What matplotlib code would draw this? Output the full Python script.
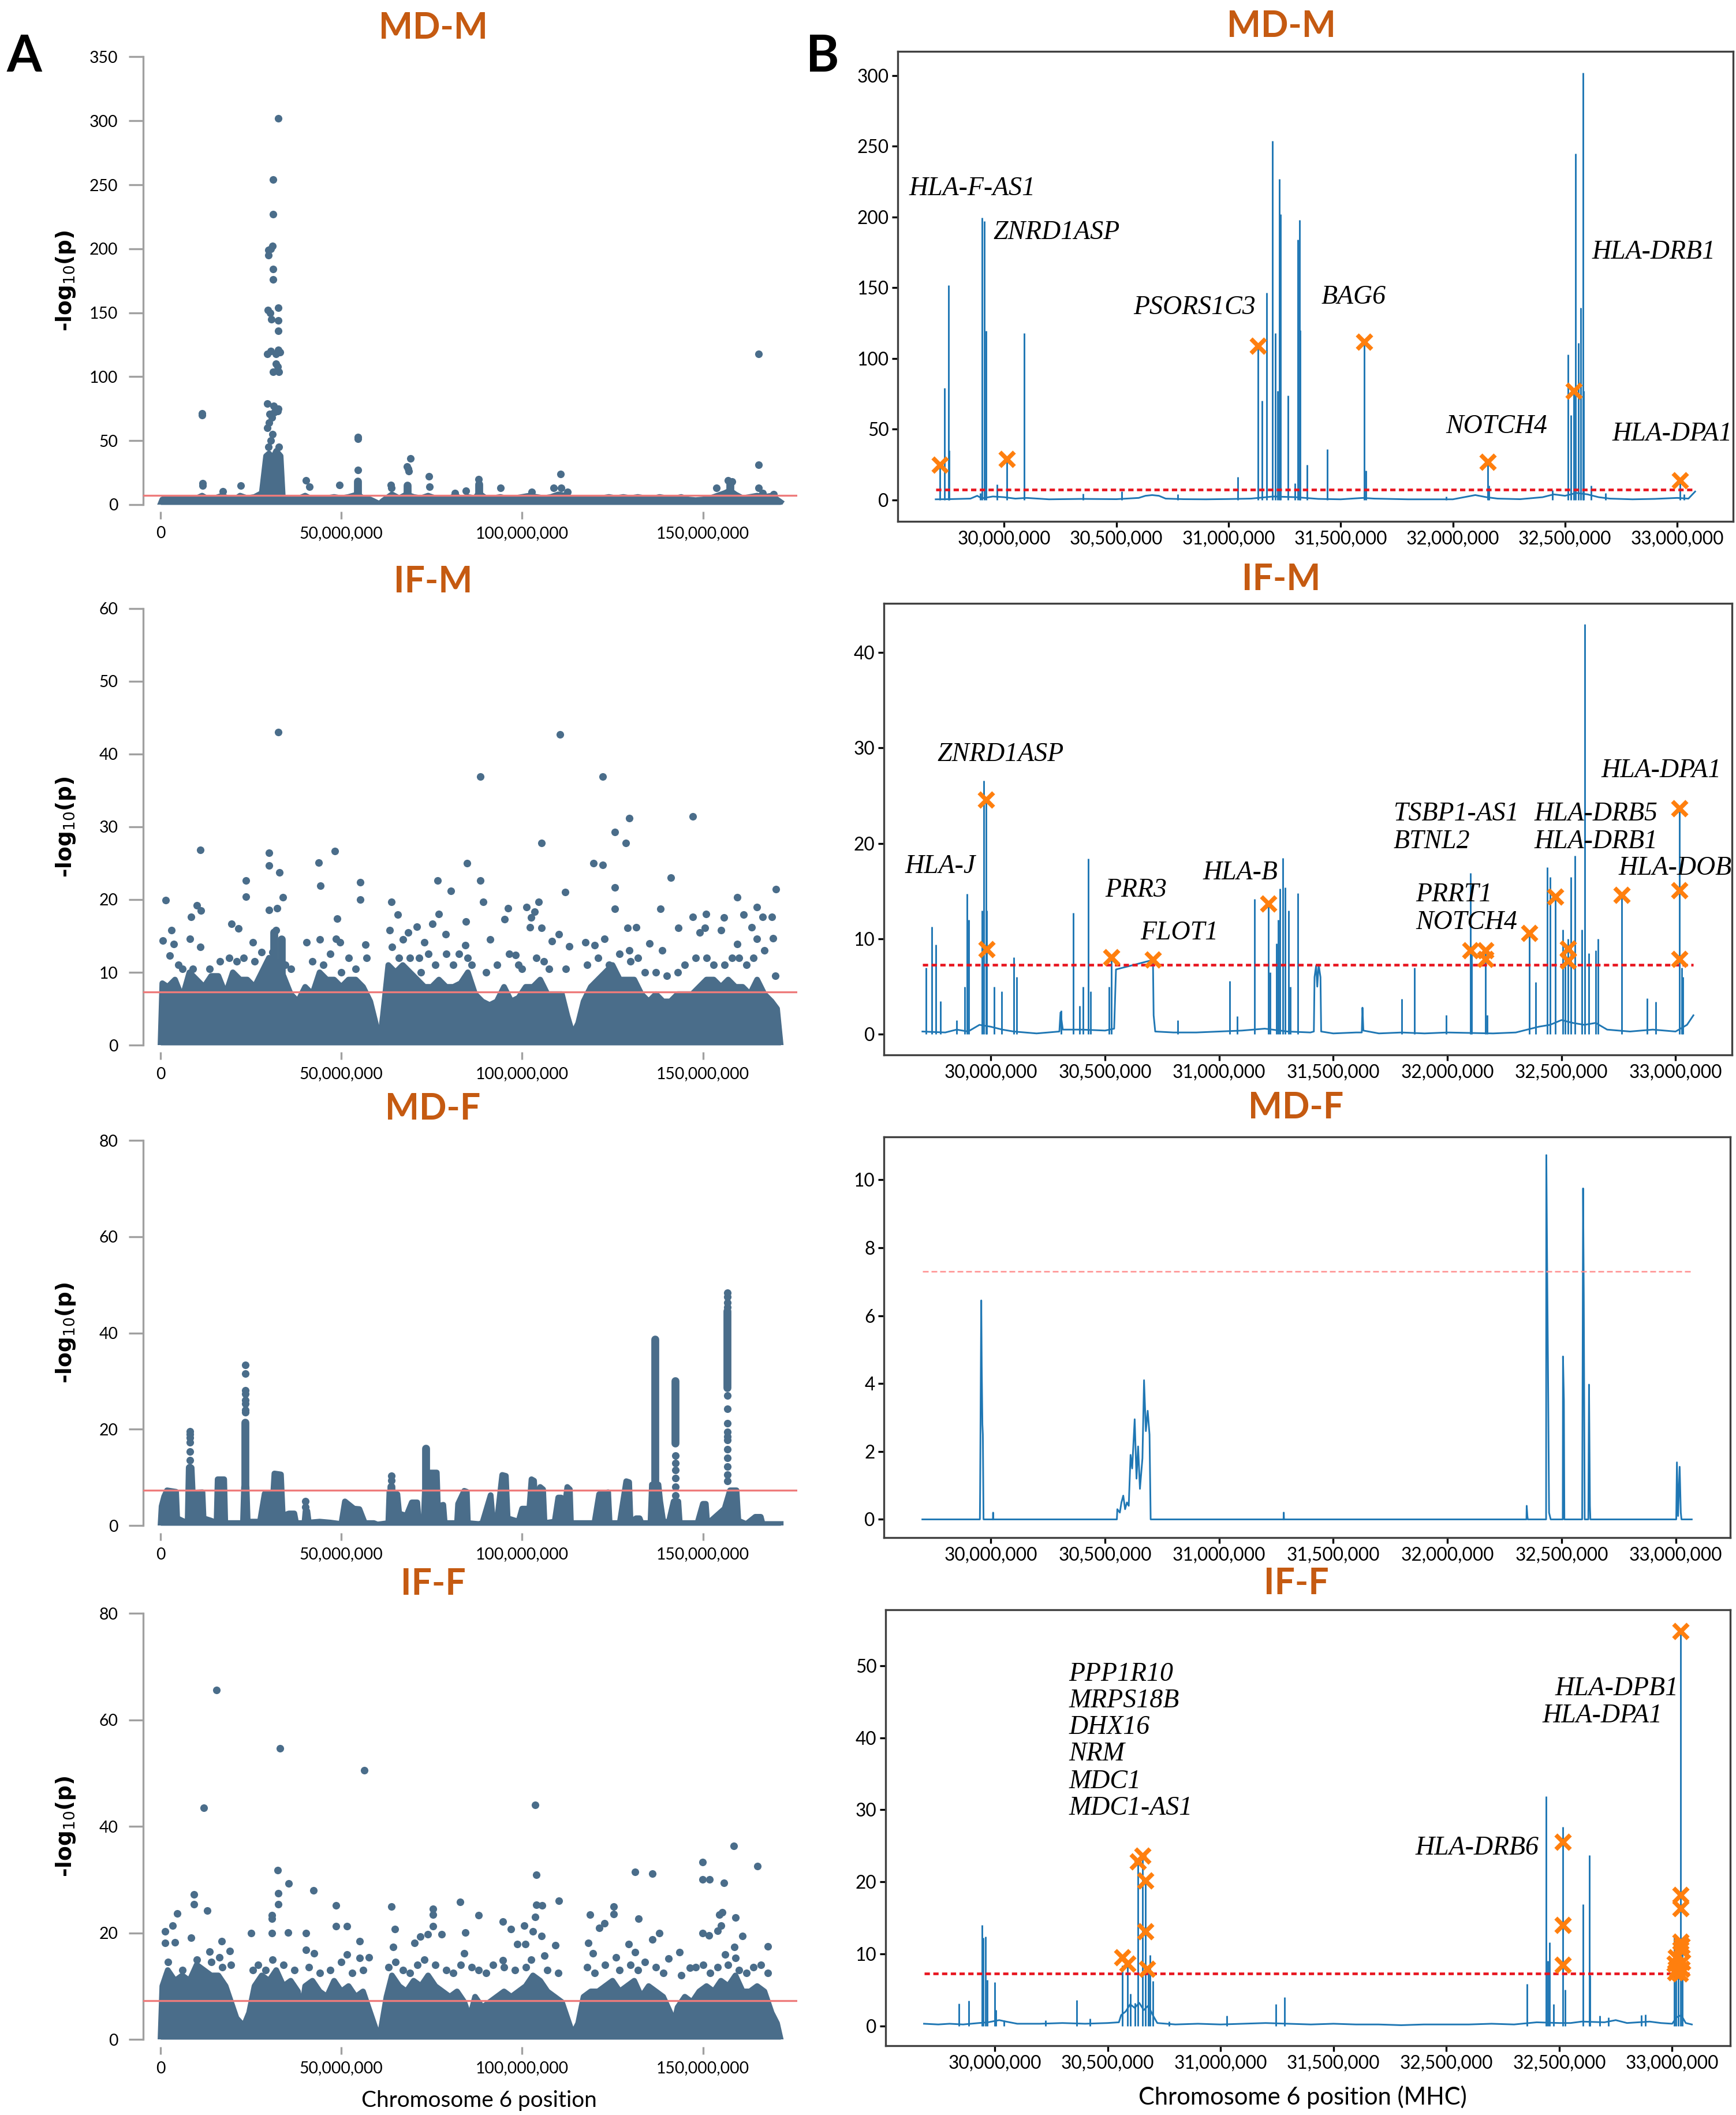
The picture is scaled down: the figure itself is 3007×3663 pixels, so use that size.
import numpy as np
import matplotlib
matplotlib.use('Agg')
import matplotlib.pyplot as plt

W, H = 3007, 3663
SIG = 7.3
DOT = '#4a6d8a'
LINE = '#1f77b4'
MARK = '#ff7f0e'
TITLE = '#c55a11'

SANS = 'Lato'
SERIF = 'Liberation Serif'
plt.rcParams['font.family'] = [SANS, 'DejaVu Sans']

# ---------------- A: genome wide (position in Mb, -log10 p) ----------------
genome_ticks = [0, 50, 100, 150]
genome_labels = ['0', '50,000,000', '100,000,000', '150,000,000']

mdm_band = [(0, 0.5), (0.5, 4), (2, 5), (4, 4.5), (6, 5), (8, 4), (10, 5), (11.5, 7), (13, 4.5),
            (15, 5), (17, 7), (19, 4.5), (21, 5), (22, 7), (24, 5), (26, 6), (28, 9), (29.2, 38),
            (30, 40), (31, 36), (32, 42), (33.2, 38), (33.8, 6), (36, 4), (38, 4.5), (40, 7),
            (42, 4), (44, 4.5), (46, 5), (48, 6), (50, 5), (52, 6), (54.5, 8), (56, 5), (58, 4),
            (59.5, 2), (60.5, 0.5), (61.5, 3), (63, 6), (64, 8), (66, 5), (68, 8), (70, 6),
            (72, 5), (74, 7), (76, 5), (78, 4.5), (80, 5), (81.5, 7), (83, 5), (85, 6), (87, 5),
            (88, 9), (90, 5), (92, 5), (94, 6), (96, 4.5), (98, 5), (100, 6), (102, 7), (104, 6),
            (106, 5), (108, 6), (110, 8), (112, 7), (114, 4), (116, 4.5), (118, 5), (120, 4.5),
            (122, 5), (124, 6), (126, 5), (128, 6), (130, 5), (132, 6), (134, 5), (136, 4.5),
            (138, 6), (140, 5), (142, 4.5), (144, 6), (146, 4), (148, 3.5), (150, 4), (152, 5),
            (154, 7), (156, 9), (157.5, 11), (159, 8), (161, 5), (163, 6), (165, 7), (167, 6),
            (169, 7), (171.5, 2)]
mdm_cols = [(54.6, 5, 18), (68.4, 5, 15), (88.1, 5, 16), (157.5, 5, 17)]
mdm_dots = [(11.5, 71.5), (11.5, 70), (11.6, 16.5), (11.6, 15), (17.2, 10.5), (22.2, 15),
            (40.2, 19), (41.2, 14), (49.5, 15.5), (54.6, 53), (54.6, 51.5), (54.6, 27),
            (63.7, 15.5), (63.8, 13), (68.2, 30), (68.5, 28), (68.7, 26), (69.1, 36), (74.3, 22),
            (74.4, 14), (81.4, 9), (84.4, 11), (88, 20), (94, 13), (102.7, 10), (108.8, 13),
            (110.7, 24), (110.8, 13), (112.5, 10), (153.8, 13), (157, 19), (158, 18),
            (165.4, 118), (165.4, 31), (165.4, 13), (166.5, 9), (169.5, 8), (29.8, 45),
            (30.5, 50), (31.0, 55), (32.8, 45), (29.6, 60), (30.0, 64), (30.2, 71), (31.5, 72),
            (32.6, 75), (29.5, 79), (31.3, 77), (32.4, 73), (30.8, 68), (31.2, 104), (32.7, 104),
            (32.4, 108), (32.0, 110), (29.5, 118), (30.5, 120), (32.0, 118), (32.5, 121),
            (33.0, 119), (32.5, 136), (30.7, 145), (32.6, 144), (30.3, 150), (29.7, 152),
            (32.5, 154), (31.2, 176), (31.2, 184), (29.8, 195), (29.9, 199), (30.5, 200),
            (31.0, 202), (31.2, 227), (31.2, 254), (32.5, 302)]

ifm_band = [(0, 0), (0.5, 8.5), (2, 8), (4, 9), (6, 6.5), (8, 10), (10, 9), (12, 8), (14, 9.5),
            (16, 9.5), (18, 7), (20, 10), (22, 9), (24, 9), (26, 8), (28, 10), (30, 12),
            (32, 11.5), (34, 9.5), (36, 7), (38, 6), (40, 8), (42, 7), (44, 10), (46, 9), (48, 9),
            (50, 8), (52, 9), (54, 9), (56, 8), (58, 6), (59.5, 3), (60.5, 0), (61.5, 4),
            (63, 11), (65, 10), (67, 11), (69, 10), (71, 9), (73, 8), (75, 8), (77, 9), (79, 8),
            (81, 8), (83, 8.5), (85, 10), (87, 7), (89, 6), (91, 5.5), (93, 6), (95, 8), (97, 6),
            (99, 6.5), (101, 8), (103, 8), (105, 9), (107, 7), (109, 7), (111, 7), (112.5, 4),
            (114, 1.5), (115.5, 3), (117, 6), (119, 8), (121, 9), (123, 10), (125, 11), (127, 9),
            (129, 9), (131, 9), (133, 7), (135, 6), (137, 7), (139, 6), (141, 6), (143, 7),
            (145, 7), (147, 7), (149, 8), (151, 9), (153, 9), (155, 8), (157, 9), (159, 8),
            (161, 8), (163, 7), (165, 9), (167, 7), (169, 6), (170.5, 5), (171.5, 0)]
ifm_cols = [(31.5, 9, 15.5), (33.5, 9, 14.5)]
ifm_dots = [(32.5, 43.0), (110.5, 42.7), (88.4, 36.9), (122.3, 36.9), (129.7, 31.2),
            (147.2, 31.4), (125.7, 29.3), (105.3, 27.8), (128.6, 27.8), (11.0, 26.8),
            (30.0, 26.4), (48.2, 26.7), (43.8, 25.1), (30.0, 24.7), (84.7, 25.0), (119.7, 25.0),
            (122.3, 24.8), (32.9, 23.7), (141.2, 23.0), (23.7, 22.6), (55.2, 22.4), (76.7, 22.6),
            (88.4, 22.6), (44.2, 21.9), (125.7, 21.7), (170.2, 21.4), (111.9, 21.0), (80.3, 21.2),
            (23.7, 20.4), (33.8, 20.3), (159.5, 20.3), (1.5, 19.9), (55.2, 20.0), (63.8, 19.7),
            (89.3, 19.7), (104.5, 19.7), (101.2, 19.0), (103.4, 18.3), (10.1, 19.2), (11.1, 18.5),
            (30.0, 18.6), (32.2, 18.8), (96.1, 18.8), (125.7, 18.7), (138.3, 18.7), (165.0, 19.0),
            (8.5, 17.6), (48.8, 17.4), (65.6, 17.9), (77.0, 18.0), (102.5, 17.5), (147.2, 17.6),
            (150.9, 18.0), (155.8, 17.5), (161.3, 17.9), (166.5, 17.6), (169.0, 17.6),
            (95.2, 17.3), (84.4, 17.0), (70.9, 16.3), (75.2, 16.7), (19.6, 16.7), (131.6, 16.2),
            (129.1, 16.1), (143.2, 16.1), (102.2, 16.2), (105.3, 16.1), (3.1, 15.8), (21.5, 16.0),
            (63.4, 15.8), (68.5, 15.5), (150.6, 16.1), (149.1, 15.5), (155.0, 15.8), (163.5, 16.2),
            (110.1, 15.2), (78.8, 15.2), (31.9, 15.8), (108.2, 14.3), (117.5, 14.1), (122.8, 14.6),
            (91.1, 14.5), (73.0, 14.1), (8.2, 14.6), (0.7, 14.4), (3.6, 13.9), (40.4, 14.1),
            (44.1, 14.5), (48.5, 14.6), (49.7, 14.1), (25.5, 14.1), (135.2, 14.0), (138.8, 13.0),
            (165.0, 14.6), (169.4, 14.7), (159.5, 13.9), (113.1, 13.6), (120.0, 13.7),
            (56.7, 13.8), (11.0, 13.5), (84.3, 13.7), (98.2, 12.4), (129.7, 13.0), (2.5, 12.3),
            (5, 11), (6, 10.5), (9, 10.5), (13.5, 10.5), (16.5, 11.5), (19, 12), (21, 11.5),
            (23, 12), (26, 11.5), (28, 12.8), (31, 12.8), (34.5, 11), (36, 10.5), (42, 11.5),
            (45, 11), (47, 12.5), (50, 10), (52, 12), (54, 10.5), (57, 12), (64, 13.5), (66, 12),
            (67, 14.5), (69, 12), (71.5, 12), (72, 10), (74, 12.5), (76, 11), (79, 12.5), (81, 11),
            (82.5, 12.5), (85, 12), (86, 11), (90, 10), (93, 11), (96.5, 12.5), (99, 11),
            (100, 10.5), (104, 12), (106, 11.5), (107.5, 10.5), (112, 10.5), (118, 11), (121, 12),
            (124, 11), (127, 12.5), (130, 11.5), (132, 12), (134, 10), (137, 10), (140, 9.5),
            (143, 10), (145, 11), (148, 12), (151, 12), (153, 11), (156, 11), (158, 12), (160, 12),
            (162, 11), (164, 12), (167, 13), (170, 9.5)]

mdf_band = [(0, 0), (0.3, 4), (1, 6), (1.8, 7.3), (4.3, 7), (4.6, 1.5), (6, 1), (7.5, 0.5),
            (7.8, 12), (8.6, 12), (8.9, 6.8), (11.6, 6.9), (11.9, 1.5), (14, 1), (15.5, 0.5),
            (15.8, 9.6), (17.6, 9.6), (17.9, 0.5), (22.8, 0.5), (23.1, 8), (23.8, 8), (24.1, 0.8),
            (27.5, 0.8), (28.8, 6.6), (30.3, 6.6), (30.8, 2), (31.5, 10.8), (33.3, 10.6),
            (33.8, 2), (35.5, 2.5), (37, 2.5), (37.5, 0.5), (39.8, 0.5), (40.1, 3.0), (40.6, 3.0),
            (41, 0.6), (44, 0.8), (47, 0.6), (50, 0.3), (51, 5), (53.5, 3.5), (55, 3.4),
            (56.5, 0.5), (59, 0.5), (60, 0.2), (63, 0.5), (63.3, 7), (65.5, 6.5), (66, 2.5),
            (68, 2), (69.5, 4.8), (71, 4.8), (71.4, 1), (72.8, 1), (73.1, 7), (74, 11),
            (76.4, 11), (76.7, 4), (78.2, 4.3), (78.6, 0.5), (82, 0.5), (82.3, 4.5), (84, 7.2),
            (84.7, 7), (85, 0.5), (88, 0.3), (89, 0.5), (91.3, 6.3), (91.9, 1), (93, 0.5),
            (94.5, 10.5), (95.5, 10.3), (96, 1.5), (99, 0.8), (100, 3.5), (102, 3.5), (102.6, 9.6),
            (103.3, 9.3), (103.8, 2), (105, 8), (105.8, 7.5), (106.2, 0.5), (109, 0.8),
            (110, 5.8), (110.8, 5.8), (111.2, 0.5), (112.5, 8), (113.2, 7.5), (113.5, 0.5),
            (120, 0.5), (121.3, 6.5), (123.8, 6.9), (124.2, 0.5), (127, 0.5), (128.8, 9.2),
            (129.6, 9), (130, 0.5), (131.5, 1.5), (132.5, 1.5), (133, 0.5), (135.5, 0.5),
            (135.9, 8.5), (137.7, 8.5), (138.2, 5), (139, 1), (140.5, 0.5), (141.9, 5),
            (143.2, 5), (143.6, 0.5), (148.5, 0.5), (150, 4.5), (150.8, 4.5), (151.2, 0.3),
            (153, 1.5), (156, 3.5), (157.5, 7.3), (159.3, 7.3), (159.8, 1), (162, 0.3),
            (164.5, 1.8), (166, 1.8), (166.5, 0.3), (171.5, 0.3)]
mdf_cols = [(8.2, 7, 12), (23.4, 0.5, 21.4), (63.8, 7, 8), (73.5, 7, 15.9), (136.9, 7, 38.6),
            (142.4, 17, 30), (156.8, 28.5, 44.5)]
mdf_dots = [(8.2, 19.5), (8.2, 18.9), (8.2, 18.2), (8.2, 17.3), (8.2, 15.3), (8.2, 13.6),
            (23.4, 33.4), (23.4, 31.6), (23.4, 28.1), (23.4, 27.3), (23.4, 26.0), (23.4, 25.3),
            (23.4, 24.0), (23.4, 23.5), (40.1, 5.0), (40.1, 3.8), (63.8, 10.3), (63.8, 9.4),
            (136.9, 5.5), (136.9, 4.0), (142.4, 14.5), (142.4, 13.0), (142.4, 11.5),
            (142.4, 9.8), (142.4, 8.0), (142.4, 6.2), (142.4, 4.5), (142.4, 3.0), (156.8, 48.3),
            (156.8, 47.5), (156.8, 46.3), (156.8, 45.3), (156.8, 27.0), (156.8, 24.2),
            (156.8, 21.2), (156.8, 19.4), (156.8, 18.5), (156.8, 17.8), (156.8, 15.8),
            (156.8, 14.0), (156.8, 12.2), (156.8, 10.5), (156.8, 9.2)]

iff_band = [(0, 0), (0.5, 10), (2, 13), (4, 11), (6, 12), (8, 11), (10, 14), (12, 13), (14, 12),
            (16, 12), (18, 10), (19.5, 7), (21, 4), (23, 2.5), (24.5, 5), (26, 10), (28, 12),
            (30, 11), (32, 13), (34, 10), (36, 11), (38, 9), (39, 5), (40, 10), (42, 11), (44, 9),
            (46, 8), (48, 11), (50, 9), (52, 10), (54, 8), (56, 9), (58, 5), (59.5, 2),
            (60.3, 0), (61, 2), (62.5, 8), (64, 12), (66, 10), (68, 9), (70, 11), (72, 10),
            (74, 12), (76, 10), (78, 9), (80, 8), (82, 9), (84, 7), (85.5, 4), (87, 8), (89, 6),
            (91, 7), (93, 8), (95, 9), (97, 8), (99, 9), (101, 10), (103, 12), (105, 11), (107, 9),
            (109, 8), (111, 7), (112.5, 4), (114, 1), (115.5, 3), (117, 8), (119, 9), (121, 9),
            (123, 10), (125, 11), (127, 9), (129, 10), (131, 11), (133, 8), (135, 10), (137, 9),
            (139, 8), (141, 5), (142, 3), (143, 6), (145, 8), (147, 7), (149, 9), (151, 10),
            (153, 9), (155, 11), (157, 10), (159, 12), (161, 9), (163, 9), (165, 10), (167, 9),
            (169, 5), (170.5, 3), (171.5, 0)]
iff_cols = []
iff_dots = [(15.5, 65.6), (33.0, 54.6), (56.4, 50.5), (103.6, 44.0), (12.0, 43.5), (158.6, 36.3),
            (149.9, 33.3), (165.1, 32.5), (32.4, 31.8), (104.0, 30.9), (131.2, 31.4), (136.1, 31.1),
            (149.9, 30.0), (151.9, 30.0), (155.9, 29.4), (35.4, 29.3), (42.3, 28.0), (9.3, 27.2),
            (32.5, 27.4), (110.2, 26.0), (82.8, 25.8), (9.3, 25.4), (48.5, 25.1), (63.9, 24.9),
            (104.0, 25.3), (105.5, 25.1), (125.4, 24.9), (75.4, 24.5), (12.9, 24.2), (32.5, 25.4),
            (4.7, 23.6), (155.3, 23.9), (30.8, 23.3), (118.8, 23.4), (75.4, 23.4), (87.9, 23.3),
            (125.4, 23.5), (154.6, 23.4), (30.8, 22.7), (132.2, 22.7), (103.6, 23.0), (159.0, 22.9),
            (94.7, 22.1), (122.8, 21.8), (3.4, 21.4), (48.5, 21.3), (51.5, 21.3), (75.4, 21.3),
            (121.3, 20.9), (155.0, 21.4), (100.6, 21.4), (96.9, 20.7), (64.8, 20.7), (1.3, 20.3),
            (25.1, 19.9), (30.8, 19.9), (35.2, 20.1), (40.2, 20.0), (84.3, 20.1), (138.0, 19.9),
            (149.9, 19.9), (151.7, 19.5), (154.0, 20.4), (160.9, 19.4), (73.9, 19.7), (77.8, 19.7),
            (103.0, 20.3), (105.3, 19.4), (8.4, 19.1), (71.9, 19.3), (136.1, 18.7), (55.0, 18.4),
            (1.2, 18.1), (4.0, 18.2), (16.9, 18.4), (118.3, 18.1), (129.4, 17.9), (98.7, 17.9),
            (100.9, 17.9), (109.2, 17.7), (167.9, 17.4), (158.7, 17.3), (70.3, 18.1), (19.2, 16.6),
            (13.5, 16.5), (40.2, 16.8), (143.5, 16.4), (131.2, 16.4), (119.5, 16.1), (64.3, 17.3),
            (57.7, 15.4), (55.0, 15.3), (51.5, 15.9), (84.0, 16.1), (106.2, 15.7), (126.0, 15.4),
            (140.5, 15.2), (156.1, 15.9), (159.0, 15.3), (16.3, 15.4), (94.7, 14.9), (42.5, 16.1),
            (146.4, 13.4), (2, 14.5), (6, 13), (10, 15), (14, 14.5), (17, 13.5), (19.5, 14),
            (25.5, 13), (27, 14), (29, 13), (31, 15), (34, 14), (37, 13), (41, 13.5), (44, 12.5),
            (47, 13), (50, 14.5), (53, 12.5), (56, 13), (63, 13.5), (65, 14.5), (67, 13),
            (69, 12.5), (71, 14), (73, 15), (76, 14), (79, 13), (81, 12.5), (83, 14), (86, 13.5),
            (88, 13), (90, 12.5), (92, 14), (95, 13.5), (98, 13), (101, 13.5), (102.5, 15),
            (107, 13), (110, 12.5), (118, 13.5), (120, 12.5), (123, 14), (127, 13), (130, 14),
            (132, 13), (134, 14.5), (137, 13.5), (139, 12.5), (144, 12), (148, 13.5), (150, 14),
            (152, 12.5), (154, 13.5), (157, 14), (160, 13), (162, 12.5), (164, 13.5), (166, 14),
            (168, 12.5)]

# ---------------- B: MHC region (position in Mb, -log10 p) ----------------
mhc_ticks = [30.0, 30.5, 31.0, 31.5, 32.0, 32.5, 33.0]
mhc_labels = ['30,000,000', '30,500,000', '31,000,000', '31,500,000', '32,000,000',
              '32,500,000', '33,000,000']
mhc_labels_iff = ['30,000,000', '30,500,000', '31,000,000', '31,500,000', '32,500,000',
                  '32,500,000', '33,000,000']

mdm_base = [(29.695, 0.5), (29.75, 0.6), (29.80, 0.8), (29.85, 1), (29.88, 3), (29.90, 1.2),
            (29.95, 2.5), (30.0, 2), (30.05, 1), (30.1, 1.5), (30.2, 0.5), (30.35, 0.8),
            (30.5, 0.6), (30.6, 1.5), (30.63, 3), (30.66, 3.5), (30.69, 3), (30.72, 1),
            (30.8, 0.6), (30.9, 0.5), (31.0, 0.7), (31.1, 1), (31.2, 2.5), (31.3, 2), (31.4, 0.8),
            (31.5, 0.5), (31.6, 1.5), (31.65, 1), (31.8, 0.5), (32.0, 0.5), (32.1, 3.5),
            (32.15, 2), (32.2, 1), (32.3, 0.6), (32.4, 2), (32.45, 4), (32.5, 3), (32.55, 5),
            (32.6, 4), (32.65, 2), (32.7, 1), (32.8, 0.5), (32.9, 0.8), (33.0, 1.5), (33.05, 1),
            (33.08, 6)]
mdm_spikes = [(29.714, 25), (29.735, 79), (29.751, 152), (29.755, 35), (29.895, 5),
              (29.902, 199.5), (29.913, 197), (29.920, 119.5), (29.968, 11), (30.011, 29),
              (30.090, 118), (30.352, 4.5), (30.525, 6), (30.773, 4), (31.042, 16.4),
              (31.132, 109), (31.150, 70), (31.171, 146.5), (31.195, 254), (31.209, 118),
              (31.219, 77), (31.227, 227), (31.232, 202), (31.264, 74), (31.295, 12),
              (31.309, 184), (31.317, 198), (31.320, 120), (31.349, 25), (31.439, 36),
              (31.606, 112), (31.613, 21), (31.97, 2.5), (32.155, 27), (32.160, 10), (32.445, 7),
              (32.513, 103), (32.525, 60), (32.539, 77), (32.547, 245), (32.560, 111),
              (32.571, 136), (32.579, 302), (32.583, 77), (32.615, 10), (32.68, 5), (33.013, 14),
              (33.030, 4)]
mdm_marks = [(29.714, 25), (30.011, 29), (31.132, 109), (31.606, 112), (32.155, 27),
             (32.539, 77), (33.013, 14)]
mdm_genes = ['HLA-F-AS1', 'ZNRD1ASP', 'PSORS1C3', 'BAG6', 'HLA-DRB1', 'NOTCH4', 'HLA-DPA1']
mdm_gene_xy = [(29.576, 220), (29.952, 189), (30.575, 136), (31.413, 143.5), (32.619, 175),
               (31.969, 52), (32.709, 46.5)]

ifm_base = [(29.700, 0.3), (29.8, 0.2), (29.85, 0.5), (29.9, 0.3), (29.95, 1.0), (30.0, 0.8),
            (30.05, 0.5), (30.1, 0.3), (30.2, 0.1), (30.3, 0.3), (30.305, 2.3), (30.315, 0.5),
            (30.4, 0.5), (30.5, 0.4), (30.54, 0.6), (30.548, 6.8), (30.710, 7.8), (30.713, 2),
            (30.72, 0.3), (30.8, 0.2), (30.9, 0.2), (31.0, 0.3), (31.1, 0.4), (31.2, 0.6),
            (31.3, 0.3), (31.4, 0.2), (31.415, 0.3), (31.418, 6), (31.425, 7.2), (31.43, 5),
            (31.436, 7.3), (31.444, 6), (31.447, 0.3), (31.5, 0.1), (31.6, 0.2), (31.625, 0.2),
            (31.628, 2.8), (31.632, 0.4), (31.7, 0.1), (31.8, 0.2), (31.9, 0.1), (32.0, 0.2),
            (32.2, 0.1), (32.3, 0.2), (32.35, 0.5), (32.4, 0.8), (32.45, 1), (32.5, 1.5),
            (32.55, 1.2), (32.6, 1), (32.65, 1.2), (32.7, 0.5), (32.8, 0.3), (32.9, 0.5),
            (33.0, 0.3), (33.05, 1), (33.078, 2)]
ifm_spikes = [(29.716, 7), (29.740, 11.3), (29.758, 9.4), (29.78, 3.5), (29.85, 1.5),
              (29.884, 5), (29.896, 14.7), (29.904, 12), (29.961, 13), (29.969, 26.6),
              (29.979, 24.6), (29.982, 13), (30.013, 5), (30.047, 4.5), (30.099, 8.1),
              (30.112, 6), (30.308, 2.5), (30.362, 12.7), (30.388, 3), (30.404, 5),
              (30.427, 18.4), (30.437, 4.5), (30.518, 5), (30.528, 8.1), (30.819, 1.5),
              (31.046, 5.6), (31.080, 1.9), (31.155, 14.2), (31.215, 13.7), (31.223, 6.5),
              (31.250, 9.5), (31.258, 12), (31.266, 15.3), (31.280, 18.5), (31.288, 15.4),
              (31.303, 13), (31.313, 5), (31.345, 14.8), (31.801, 3.7),
              (31.855, 7.0), (31.995, 2), (32.102, 16.9), (32.105, 8.8), (32.168, 8.8),
              (32.174, 2), (32.360, 10.6), (32.386, 5.5), (32.438, 17.5), (32.450, 16.5),
              (32.472, 14.4), (32.505, 11), (32.515, 9), (32.529, 10), (32.540, 16.5),
              (32.560, 18.7), (32.588, 11), (32.602, 43), (32.620, 8.5), (32.650, 8.8),
              (32.660, 10), (32.763, 14.8), (32.876, 3.8), (32.912, 3.4), (33.016, 23.7),
              (33.026, 7), (33.031, 6)]
ifm_marks = [(29.979, 24.6), (29.982, 8.9), (30.528, 8.1), (30.710, 7.8), (31.215, 13.7),
             (32.102, 8.8), (32.168, 8.8), (32.168, 7.9), (32.360, 10.6), (32.472, 14.4),
             (32.529, 9.0), (32.529, 7.7), (32.763, 14.6), (33.016, 23.7), (33.016, 15.1),
             (33.016, 7.9)]
ifm_genes = ['ZNRD1ASP', 'HLA-J', 'PRR3', 'FLOT1', 'HLA-B', 'TSBP1-AS1', 'BTNL2', 'PRRT1',
             'NOTCH4', 'HLA-DRB5', 'HLA-DRB1', 'HLA-DPA1', 'HLA-DOB']
ifm_gene_xy = [(29.766, 29.3), (29.623, 17.6), (30.500, 15.1), (30.656, 10.6), (30.929, 16.9),
               (31.764, 23.1), (31.764, 20.2), (31.861, 14.6), (31.861, 11.7), (32.381, 23.1),
               (32.381, 20.2), (32.675, 27.6), (32.750, 17.4)]

mdf_line = [(29.700, 0), (29.952, 0), (29.953, 0.8), (29.958, 6.45), (29.960, 4.5),
            (29.963, 2.8), (29.965, 2.5), (29.968, 0), (30.009, 0), (30.010, 0.2), (30.011, 0),
            (30.552, 0), (30.554, 0.3), (30.565, 0.2), (30.572, 0.5), (30.580, 0.7),
            (30.588, 0.3), (30.596, 0.5), (30.604, 0.4), (30.612, 1.9), (30.619, 1.5),
            (30.630, 2.95), (30.638, 1.2), (30.645, 2.15), (30.653, 0.9), (30.664, 1.8),
            (30.671, 4.1), (30.679, 2.6), (30.687, 3.2), (30.695, 2.5), (30.700, 0),
            (31.282, 0), (31.283, 0.2), (31.284, 0), (32.346, 0), (32.347, 0.4), (32.350, 0.1),
            (32.352, 0), (32.432, 0), (32.433, 10.73), (32.436, 8), (32.440, 4.75),
            (32.445, 0.2), (32.452, 0), (32.505, 0), (32.506, 4.8), (32.510, 3.5), (32.512, 0),
            (32.590, 0), (32.592, 4.5), (32.594, 9.75), (32.597, 6.6), (32.601, 0),
            (32.617, 0), (32.620, 3.97), (32.624, 0.4), (32.626, 0), (33.002, 0),
            (33.005, 1.68), (33.010, 0.1), (33.017, 1.55), (33.022, 0.2), (33.025, 0),
            (33.070, 0)]

iff_base = [(29.687, 0.3), (29.75, 0.2), (29.80, 0.3), (29.86, 0.2), (29.93, 0.4), (29.97, 0.5),
            (30.02, 0.8), (30.05, 0.6), (30.1, 0.3), (30.2, 0.3), (30.3, 0.4), (30.4, 0.3),
            (30.5, 0.4), (30.55, 0.5), (30.56, 1.5), (30.58, 2), (30.60, 3), (30.62, 2.5),
            (30.64, 3.2), (30.66, 2.2), (30.68, 2.8), (30.70, 1.5), (30.72, 0.4), (30.8, 0.2),
            (30.9, 0.3), (31.0, 0.2), (31.1, 0.3), (31.2, 0.4), (31.3, 0.3), (31.4, 0.2),
            (31.5, 0.3), (31.6, 0.2), (31.7, 0.2), (31.8, 0.1), (31.9, 0.2), (32.0, 0.2),
            (32.1, 0.2), (32.2, 0.3), (32.3, 0.2), (32.4, 0.5), (32.5, 0.4), (32.55, 0.4),
            (32.6, 0.6), (32.7, 0.5), (32.75, 0.8), (32.8, 0.4), (32.9, 0.6), (32.95, 0.4),
            (33.0, 0.3), (33.02, 1.2), (33.04, 1.5), (33.06, 0.4), (33.087, 0.2)]
iff_spikes = [(29.842, 3.1), (29.884, 3.5), (29.945, 14), (29.950, 12.2), (29.958, 12.4),
              (29.968, 6.4), (30.0, 6.1), (30.005, 2.2), (30.042, 0.8), (30.226, 0.8),
              (30.363, 3.6), (30.421, 1.0), (30.566, 8.4), (30.587, 8.6), (30.600, 4.5),
              (30.621, 3.2), (30.634, 22.4), (30.655, 23.6), (30.668, 20.2), (30.679, 7.5),
              (30.687, 9.8), (30.700, 6.2), (30.771, 0.6), (31.029, 1.4), (31.245, 3.0),
              (31.284, 3.95), (32.358, 5.8), (32.442, 31.9), (32.450, 9), (32.458, 11.6),
              (32.474, 3), (32.516, 27.6), (32.526, 5), (32.605, 16.9), (32.632, 23.7),
              (32.637, 7), (32.679, 1.4), (32.718, 1.2), (32.863, 1.5), (32.882, 1.6),
              (33.008, 12.3), (33.016, 10), (33.026, 9), (33.037, 55), (33.045, 11.7)]
iff_marks = [(30.566, 9.5), (30.587, 8.6), (30.634, 22.8), (30.655, 23.6), (30.668, 20.2),
             (30.668, 13.1), (30.674, 7.9), (32.516, 25.5), (32.516, 14.0), (32.516, 8.5),
             (33.037, 54.8), (33.037, 18.2), (33.037, 16.3), (33.037, 11.7), (33.042, 11.1),
             (33.037, 10.6), (33.016, 9.5), (33.011, 8.6), (33.045, 8.9), (33.021, 7.9),
             (33.042, 7.9), (33.013, 7.4), (33.034, 7.3)]
iff_genes = ['PPP1R10', 'MRPS18B', 'DHX16', 'NRM', 'MDC1', 'MDC1-AS1', 'HLA-DPB1', 'HLA-DPA1',
             'HLA-DRB6']
iff_gene_xy = [(30.329, 48.8), (30.329, 45.1), (30.329, 41.4), (30.329, 37.7), (30.329, 33.9),
               (30.329, 30.2), (32.482, 46.8), (32.424, 43.0), (31.863, 24.7)]

fig = plt.figure(figsize=(W / 300, H / 300), dpi=300, facecolor='w')


def px_axes(left, top, right, bottom):
    return fig.add_axes([left / W, 1 - bottom / H, (right - left) / W, (bottom - top) / H])


# left column: (title, band, cols, dots, ymax, ystep, top px, bottom px, title y px)
left_panels = [('MD-M', mdm_band, mdm_cols, mdm_dots, 350, 50, 98.5, 874, 49),
               ('IF-M', ifm_band, ifm_cols, ifm_dots, 60, 10, 1054, 1810, 1008),
               ('MD-F', mdf_band, mdf_cols, mdf_dots, 80, 20, 1975, 2642, 1921),
               ('IF-F', iff_band, iff_cols, iff_dots, 80, 20, 2794, 3532, 2744)]

for title, band, cols, dots, ymax, ystep, top, bottom, ty in left_panels:
    ax = px_axes(248, top, 1381, bottom)
    bx, by = np.array(band).T
    ax.fill_between(bx, 0, by, color=DOT, lw=0)
    ax.plot(bx, by, color=DOT, lw=2.4, solid_joinstyle='round')
    if cols:
        cx, clo, chi = np.array(cols).T
        lc = ax.vlines(cx, clo, chi, color=DOT, lw=3.3)
        lc.set_capstyle('round')
    dx, dy = np.array(dots).T
    ax.scatter(dx, dy, s=10, color=DOT, lw=0, clip_on=False)
    ax.axhline(SIG, color='#ee7b7b', lw=0.8, zorder=5)
    ax.set_xlim(-4.8, 176.1)
    ax.set_ylim(0, ymax)
    ax.set_xticks(genome_ticks)
    ax.set_xticklabels(genome_labels)
    ax.set_yticks(np.arange(0, ymax + 1, ystep))
    for side in ['top', 'right', 'bottom']:
        ax.spines[side].set_visible(False)
    ax.spines['bottom'].set_position(('outward', 3))
    ax.spines['left'].set_color('#a0a0a0')
    ax.spines['left'].set_linewidth(0.8)
    ax.tick_params(axis='y', length=6, width=0.8, color='#a0a0a0', pad=4.5, labelsize=6.8)
    ax.tick_params(axis='x', length=3, width=0.8, color='#a0a0a0', pad=3, labelsize=6.8)
    ax.set_facecolor('none')
    fig.text(750 / W, 1 - ty / H, title, color=TITLE, fontsize=15, fontweight='bold',
             ha='center', va='center')
    fig.text(114 / W, 1 - (top + bottom) / 2 / H, r'-log$_{10}$(p)', rotation=90,
             family='DejaVu Sans', fontweight='bold', fontsize=9, ha='center', va='center')

# right column
right_panels = [('MD-M', mdm_base, mdm_spikes, mdm_marks, mdm_genes, mdm_gene_xy, mhc_labels,
                 (1555, 89, 3002, 903), (2219, 46), np.arange(0, 301, 50), False),
                ('IF-M', ifm_base, ifm_spikes, ifm_marks, ifm_genes, ifm_gene_xy, mhc_labels,
                 (1531, 1045, 3000, 1827), (2219, 1004), np.arange(0, 41, 10), False),
                ('MD-F', mdf_line, [], [], [], [], mhc_labels,
                 (1531, 1969, 2997, 2663), (2245, 1919), np.arange(0, 11, 2), True),
                ('IF-F', iff_base, iff_spikes, iff_marks, iff_genes, iff_gene_xy, mhc_labels_iff,
                 (1534, 2788, 2997, 3543), (2245, 2743), np.arange(0, 51, 10), False)]

for title, base, spikes, marks, genes, gene_xy, xlabels, box, txy, yticks, light in right_panels:
    ax = px_axes(*box)
    bx, by = np.array(base).T
    ax.plot(bx, by, color=LINE, lw=0.7)
    if spikes:
        sx, sv = np.array(spikes).T
        ax.vlines(sx, 0, sv, color=LINE, lw=0.7)
    if light:
        ax.hlines(SIG, bx.min(), bx.max(), colors='#ff9090', linestyles=(0, (4, 2)), lw=0.6)
    else:
        ax.hlines(SIG, bx.min(), bx.max(), colors='#e8141e', linestyles=(0, (2, 1.3)), lw=1.1)
    if marks:
        mx, my = np.array(marks).T
        ax.plot(mx, my, ls='none', marker='x', color=MARK, ms=6, mew=1.8)
    for name, (gx, gy) in zip(genes, gene_xy):
        ax.text(gx, gy, name, family=[SERIF, 'DejaVu Serif'], fontstyle='italic',
                fontsize=11, ha='left', va='center')
    ax.set_xticks(mhc_ticks)
    ax.set_xticklabels(xlabels)
    ax.set_yticks(yticks)
    ax.tick_params(labelsize=7.6, length=2.5, pad=1.2)
    for side in ax.spines.values():
        side.set_color('#404040')
        side.set_linewidth(0.8)
    fig.text(txy[0] / W, 1 - txy[1] / H, title, color=TITLE, fontsize=15, fontweight='bold',
             ha='center', va='center')

fig.text(42 / W, 1 - 98 / H, 'A', fontsize=21, fontweight='bold', ha='center', va='center')
fig.text(1425 / W, 1 - 98 / H, 'B', fontsize=21, fontweight='bold', ha='center', va='center')
fig.text(830 / W, 1 - 3638 / H, 'Chromosome 6 position', fontsize=9.3, ha='center', va='center')
fig.text(2256 / W, 1 - 3632 / H, 'Chromosome 6 position (MHC)', fontsize=10, ha='center',
         va='center')

fig.savefig('out.png', dpi=300, facecolor='w')
